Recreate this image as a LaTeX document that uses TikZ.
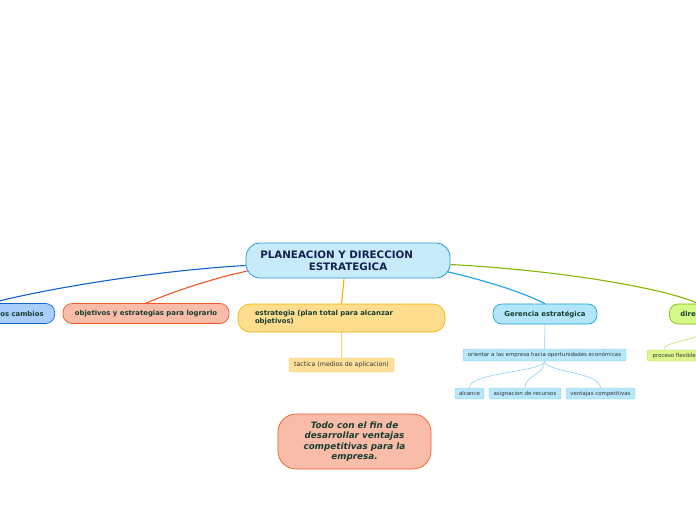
\documentclass[tikz,border=0pt]{standalone}
\usepackage{fontspec}
\setmainfont{DejaVu Sans}
\usetikzlibrary{backgrounds}
\definecolor{rootbg}{HTML}{C7EBFB}
\definecolor{rootln}{HTML}{2A9AD6}
\definecolor{navy}{HTML}{14224E}
\definecolor{dkgreen}{HTML}{173D30}
\definecolor{blubg}{HTML}{A9CEFB}
\definecolor{bluln}{HTML}{1262CC}
\definecolor{orabg}{HTML}{F9BCA8}
\definecolor{oraln}{HTML}{F05A28}
\definecolor{yelbg}{HTML}{FFDD8F}
\definecolor{yelln}{HTML}{F5B500}
\definecolor{cyabg}{HTML}{B3E6FA}
\definecolor{cyaln}{HTML}{18A2E0}
\definecolor{grnbg}{HTML}{D4FA88}
\definecolor{grnln}{HTML}{86B400}
\definecolor{tacbg}{HTML}{FFE09A}
\definecolor{tacln}{HTML}{FBCF6A}
\definecolor{subbg}{HTML}{B6E7FB}
\definecolor{subln}{HTML}{7ACCF0}
\definecolor{probg}{HTML}{DDF78C}
\definecolor{proln}{HTML}{B5DA40}

\begin{document}
\begin{tikzpicture}[
   x=1pt,y=-1pt,
   root/.style={draw=rootln,fill=rootbg,line width=0.8pt,rounded corners=14pt,
      minimum width=204pt,minimum height=35pt,align=center,text=navy,
      font=\fontsize{10.3}{11.5}\selectfont\bfseries},
   topic/.style={rounded corners=9pt,minimum height=20pt,inner xsep=11pt,inner ysep=0pt,
      line width=0.7pt,text=dkgreen,font=\fontsize{6.9}{8}\selectfont\bfseries},
   leaf/.style={rounded corners=2pt,minimum height=11pt,inner xsep=3pt,inner ysep=0pt,
      line width=0.4pt,text=black!80,font=\fontsize{5.45}{6}\selectfont},
   link/.style={line width=1.1pt},
   twig/.style={line width=0.5pt}]
\useasboundingbox (0,0) rectangle (696,520);

\node[root] (plan) at (348,260.5) {PLANEACION Y DIRECCION\hspace*{2.2em}\\ESTRATEGICA};

% first level
\node[topic,draw=bluln,fill=blubg,anchor=east] (camb) at (55,313.5) {los cambios};
\node[topic,draw=oraln,fill=orabg,minimum width=166pt] (obj) at (146,313.5) {objetivos y estrategias para lograrlo};
\node[topic,draw=yelln,fill=yelbg,minimum width=207pt,minimum height=28pt,rounded corners=12pt,
   text width=173pt,inner xsep=17pt,align=left,font=\fontsize{6.9}{8}\selectfont\bfseries] (estr) at (341.5,318)
   {estrategia (plan total para alcanzar\\objetivos)};
\node[topic,draw=cyaln,fill=cyabg,minimum width=104pt] (ger) at (545,314) {Gerencia estratégica};
\node[topic,draw=grnln,fill=grnbg,anchor=west] (dir) at (669,314) {direccion};

% second level
\node[leaf,draw=tacln,fill=tacbg,minimum width=105pt,minimum height=14pt,font=\fontsize{6.3}{7}\selectfont] (tac) at (341.5,365) {tactica (medios de aplicacion)};
\node[leaf,draw=subln,fill=subbg,minimum width=163pt,minimum height=12pt] (ori) at (544.5,355) {orientar a las empresa hacia oportunidades económicas};
\node[leaf,draw=subln,fill=subbg,minimum width=29pt] (alc) at (469.5,393.5) {alcance};
\node[leaf,draw=subln,fill=subbg,minimum width=72pt] (asig) at (525,393.5) {asignacion de recursos};
\node[leaf,draw=subln,fill=subbg,minimum width=69pt] (vent) at (600.5,393.5) {ventajas competitivas};
\node[leaf,draw=proln,fill=probg,minimum width=54pt,anchor=west] (proc) at (647,355.5) {proceso flexible};

% floating note
\node[draw=oraln,fill=orabg,line width=0.7pt,rounded corners=18pt,minimum width=153pt,minimum height=55pt,
   align=center,text=dkgreen,font=\fontsize{8.8}{10.5}\selectfont\bfseries\itshape] (todo) at (354.5,441.5)
   {Todo con el fin de\\desarrollar ventajas\\competitivas para la\\empresa.};

\begin{scope}[on background layer]
\draw[link,bluln] ([yshift=-5pt]plan.west) .. controls (150,271) and (40,290) .. ([xshift=-30pt]camb.north);
\draw[link,oraln!95!red] ([xshift=4pt,yshift=-10pt]plan.west) .. controls (205,280) and (165,295) .. (obj.north);
\draw[link,yelln] ([xshift=-4pt]plan.south) .. controls (343,290) .. (estr.north);
\draw[link,cyaln] ([xshift=-4pt,yshift=-11pt]plan.east) .. controls (500,284) and (530,296) .. (ger.north);
\draw[link,grnln] ([yshift=-4pt]plan.east) .. controls (570,271) and (670,290) .. (dir.north);
\draw[twig,tacln] (estr.south) -- (tac.north);
\draw[twig,subln] (ger.south) -- (ori.north);
\draw[twig,subln] (ori.south) .. controls (544.5,372) and (469.5,372) .. (alc.north);
\draw[twig,subln] (ori.south) .. controls (544.5,375) and (525,375) .. (asig.north);
\draw[twig,subln] (ori.south) .. controls (544.5,372) and (600.5,372) .. (vent.north);
\draw[twig,proln] ([xshift=-10pt]proc.north) .. controls (660,340) and (720,340) .. (dir.south);
\end{scope}
\end{tikzpicture}
\end{document}
